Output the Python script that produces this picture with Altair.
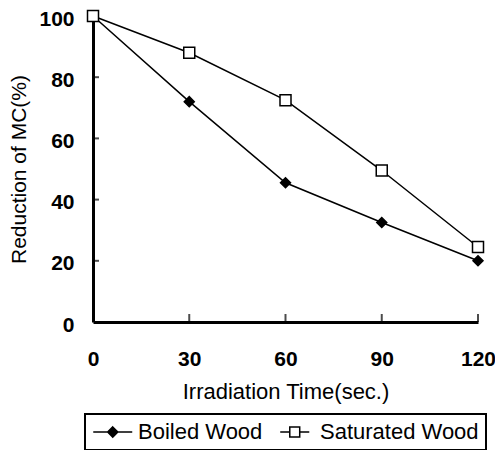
import altair as alt
import pandas as pd

# ---- data ----
times = [0, 30, 60, 90, 120]
boiled = [100, 72, 45.5, 32.5, 20]
saturated = [100, 88, 72.5, 49.5, 24.5]
series_names = ["Boiled Wood", "Saturated Wood"]
x_ticks = [0, 30, 60, 90, 120]
y_ticks = [0, 20, 40, 60, 80, 100]

rows = []
for t, b, s in zip(times, boiled, saturated):
    rows.append({"time": t, "value": b, "series": series_names[0]})
    rows.append({"time": t, "value": s, "series": series_names[1]})
df = pd.DataFrame(rows)

xt_df = pd.DataFrame({"time": x_ticks[1:], "value": [0] * (len(x_ticks) - 1)})
yt_df = pd.DataFrame({"time": [0] * (len(y_ticks) - 1), "value": y_ticks[1:]})

FONT = "Liberation Sans"
x_scale = alt.Scale(domain=[0, 120], nice=False, zero=False)
y_scale = alt.Scale(domain=[0, 100], nice=False)

x_axis = alt.Axis(values=x_ticks, title="Irradiation Time(sec.)", grid=False,
                  ticks=False, tickSize=0, domainWidth=3, domainColor="black",
                  labelFont=FONT, labelFontSize=21, labelFontWeight="bold",
                  labelColor="black", labelPadding=26, labelFlush=False,
                  titleFont=FONT, titleFontSize=22, titleFontWeight="normal",
                  titleColor="black", titlePadding=12, format="d")
y_axis = alt.Axis(values=y_ticks, title="Reduction of MC(%)", grid=False,
                  ticks=False, tickSize=0, domainWidth=3, domainColor="black",
                  labelFont=FONT, labelFontSize=21, labelFontWeight="bold",
                  labelColor="black", labelPadding=19, labelOffset=3,
                  titleFont=FONT, titleFontSize=21, titleFontWeight="normal",
                  titleColor="black", titlePadding=9, format="d")

base = alt.Chart(df)

lines = base.mark_line(color="black", strokeWidth=1.5).encode(
    x=alt.X("time:Q", scale=x_scale, axis=x_axis),
    y=alt.Y("value:Q", scale=y_scale, axis=y_axis),
    detail="series:N",
)

points = base.mark_point(filled=True, stroke="black", strokeWidth=1.5, opacity=1).encode(
    x=alt.X("time:Q", scale=x_scale),
    y=alt.Y("value:Q", scale=y_scale),
    shape=alt.Shape("series:N", scale=alt.Scale(domain=series_names, range=["diamond", "square"]), legend=None),
    fill=alt.Fill("series:N", scale=alt.Scale(domain=series_names, range=["black", "white"]), legend=None),
    size=alt.Size("series:N", scale=alt.Scale(domain=series_names, range=[100, 121]), legend=None),
)

# legend glyphs: line + marker, drawn to the right of the symbol slot
leg_paths = [
    "M-1,0L3,0M1,-0.52L1.52,0L1,0.52L0.48,0Z",
    "M-0.49,0L0.49,0M1.51,0L2.49,0M0.49,-0.51L1.51,-0.51L1.51,0.51L0.49,0.51Z",
]
LEG_SIZE = 380
leg = alt.Legend(title=None, orient="none", legendX=-8, legendY=398,
                 direction="horizontal", strokeColor="black", padding=7,
                 symbolOpacity=1, symbolStrokeColor="black", symbolStrokeWidth=1.5,
                 symbolSize=LEG_SIZE, labelFont=FONT, labelFontSize=22, labelColor="black",
                 labelOffset=24, columnPadding=11)

legend_layer = base.mark_point(filled=True, opacity=0, strokeWidth=1.5, size=LEG_SIZE).encode(
    x=alt.X("time:Q", scale=x_scale),
    y=alt.Y("value:Q", scale=y_scale),
    shape=alt.Shape("series:N", scale=alt.Scale(domain=series_names, range=leg_paths), legend=leg),
    fill=alt.Fill("series:N", scale=alt.Scale(domain=series_names, range=["black", "white"]), legend=leg),
    stroke=alt.Stroke("series:N", scale=alt.Scale(domain=series_names, range=["black", "black"]), legend=leg),
)

xticks_layer = alt.Chart(xt_df).mark_tick(orient="vertical", size=8, thickness=2, yOffset=-4, color="black").encode(
    x=alt.X("time:Q", scale=x_scale),
    y=alt.Y("value:Q", scale=y_scale),
)
yticks_layer = alt.Chart(yt_df).mark_tick(orient="horizontal", size=6, thickness=2, xOffset=3, color="black").encode(
    x=alt.X("time:Q", scale=x_scale),
    y=alt.Y("value:Q", scale=y_scale),
)

chart = alt.layer(lines, xticks_layer, yticks_layer, points, legend_layer).resolve_scale(
    shape="independent", fill="independent", size="independent", stroke="independent"
).properties(
    width=385, height=306,
    autosize=alt.AutoSizeParams(type="none"),
    padding={"left": 85, "top": 8, "right": 17, "bottom": 128},
).configure_view(stroke=None).configure_legend(strokeWidth=2)

chart.save("out.html", embed_options={"renderer": "svg", "actions": False})
